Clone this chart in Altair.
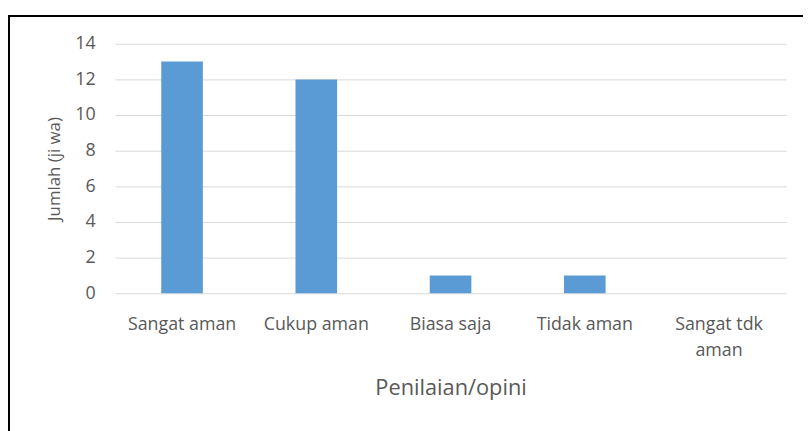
import altair as alt
import pandas as pd

categories = ["Sangat aman", "Cukup aman", "Biasa saja", "Tidak aman", "Sangat tdk aman"]
values = [13, 12, 1, 1, 0]
y_ticks = [0, 2, 4, 6, 8, 10, 12, 14]

df = pd.DataFrame({"kategori": categories, "jumlah": values})

W, H = 678, 252
FONT = "Open Sans"
GRAY = "#595959"

bars = alt.Chart(df).mark_bar(color="#5b9bd5").encode(
    x=alt.X("kategori:N", sort=categories,
            scale=alt.Scale(paddingInner=0.69, paddingOuter=0.345),
            axis=alt.Axis(title="Penilaian/opini", labelAngle=0, labelPadding=23,
                          labelFontSize=18, labelColor=GRAY, labelFont=FONT,
                          labelLineHeight=26,
                          labelExpr="datum.label == 'Sangat tdk aman' ? ['Sangat tdk', 'aman'] : datum.label",
                          titleFontSize=22, titleColor=GRAY, titleFont=FONT,
                          titleFontWeight="normal", titlePadding=18,
                          ticks=False, domain=False)),
    y=alt.Y("jumlah:Q",
            scale=alt.Scale(domain=[0, 14], nice=False),
            axis=alt.Axis(title="Jumlah (ji wa)", values=y_ticks, labelPadding=20,
                          labelFontSize=18, labelColor=GRAY, labelFont=FONT,
                          titleFontSize=17, titleColor=GRAY, titleFont=FONT,
                          titleFontWeight="normal", titlePadding=11,
                          ticks=False, domain=False, gridColor="#d9d9d9",
                          gridWidth=1)),
)

frame_left = alt.Chart(df).mark_rule(color="#000000", strokeWidth=2, clip=False).encode(
    x=alt.value(-107), y=alt.value(-28), y2=alt.value(H + 200)
)
frame_top = alt.Chart(df).mark_rule(color="#000000", strokeWidth=2, clip=False).encode(
    x=alt.value(-108), x2=alt.value(W + 100), y=alt.value(-28)
)

chart = alt.layer(bars, frame_left, frame_top).properties(
    width=W, height=H,
    padding={"left": 108, "top": 34, "right": 17, "bottom": 137},
    autosize=alt.AutoSizeParams(type="none"),
    background="white",
).configure_view(stroke=None)

chart.save("out.html", embed_options={"renderer": "svg", "actions": False})
